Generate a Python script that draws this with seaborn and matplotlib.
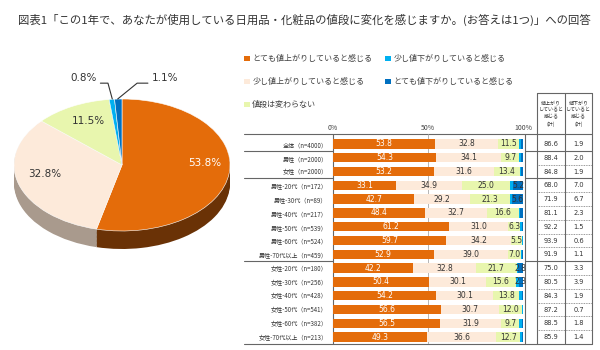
import numpy as np
import pandas as pd
import matplotlib
matplotlib.use("Agg")
import matplotlib.pyplot as plt
from matplotlib.patches import Patch
import seaborn as sns

# ---------------- data ----------------
title = "図表1「この1年で、あなたが使用している日用品・化粧品の値段に変化を感じますか。(お答えは1つ)」への回答"
series_names = ["とても値上がりしていると感じる", "少し値上がりしていると感じる", "値段は変わらない",
                "少し値下がりしていると感じる", "とても値下がりしていると感じる"]
pie_values = [53.8, 32.8, 11.5, 0.8, 1.1]
pie_labels = ["53.8%", "32.8%", "11.5%", "0.8%", "1.1%"]

row_labels = ["全体（n=4000）", "男性（n=2000）", "女性（n=2000）",
              "男性-20代（n=172）", "男性-30代（n=89）", "男性-40代（n=217）",
              "男性-50代（n=539）", "男性-60代（n=524）", "男性-70代以上（n=459）",
              "女性-20代（n=180）", "女性-30代（n=256）", "女性-40代（n=428）",
              "女性-50代（n=541）", "女性-60代（n=382）", "女性-70代以上（n=213）"]
very_up = [53.8, 54.3, 53.2, 33.1, 42.7, 48.4, 61.2, 59.7, 52.9, 42.2, 50.4, 54.2, 56.6, 56.5, 49.3]
bit_up = [32.8, 34.1, 31.6, 34.9, 29.2, 32.7, 31.0, 34.2, 39.0, 32.8, 30.1, 30.1, 30.7, 31.9, 36.6]
same = [11.5, 9.7, 13.4, 25.0, 21.3, 16.6, 6.3, 5.5, 7.0, 21.7, 15.6, 13.8, 12.0, 9.7, 12.7]
bit_down = [0.8, 0.9, 0.8, 1.8, 1.1, 0.9, 0.8, 0.4, 0.6, 0.5, 1.6, 1.2, 0.5, 1.2, 1.0]
very_down = [1.1, 1.1, 1.1, 5.2, 5.6, 1.4, 0.7, 0.2, 0.5, 2.8, 2.3, 0.7, 0.2, 0.6, 0.4]
up_total = [86.6, 88.4, 84.8, 68.0, 71.9, 81.1, 92.2, 93.9, 91.9, 75.0, 80.5, 84.3, 87.2, 88.5, 85.9]
down_total = [1.9, 2.0, 1.9, 7.0, 6.7, 2.3, 1.5, 0.6, 1.1, 3.3, 3.9, 1.9, 0.7, 1.8, 1.4]
table_headers = ["値上がり\nしていると\n感じる\n(計)", "値下がり\nしていると\n感じる\n(計)"]
x_ticks = [0, 50, 100]
x_ticklabels = ["0%", "50%", "100%"]

# ---------------- style ----------------
colors = ["#E46C0A", "#FDEADA", "#E8F6AE", "#00B0F0", "#0070C0"]
side_colors = ["#6A3206", "#A99A8D", "#9BA56E", "#00709A", "#004A80"]
sns.set_theme(style="white")
plt.rcParams["font.family"] = ["Noto Sans CJK JP", "DejaVu Sans"]
TXT = "#333333"

fig = plt.figure(figsize=(6, 3.5), dpi=100)
fig.patch.set_facecolor("white")

fig.text(18 / 600, 1 - 20 / 350, title, fontsize=8.2, color=TXT, ha="left", va="center")

# ---------------- pie ----------------
axp = fig.add_axes([3.2 / 600, 1 - 270.6 / 350, 237.6 / 600, 191.4 / 350])
depth = 18 / 66
for d in np.linspace(depth, 0.01, 14):
    axp.pie(pie_values, colors=side_colors, startangle=90, counterclock=False,
            center=(0, -d), radius=1, wedgeprops=dict(linewidth=0))
axp.pie(pie_values, colors=colors, startangle=90, counterclock=False,
        center=(0, 0), radius=1, wedgeprops=dict(linewidth=0.4, edgecolor="white"))
axp.set_aspect("auto")
axp.set_xlim(-1.1, 1.1)
axp.set_ylim(-1.6, 1.3)
axp.axis("off")
pie_pos = [(0.77, 0.03), (-0.72, -0.14), (-0.31, 0.67), (-0.36, 1.32), (0.40, 1.32)]
pie_tc = ["white", TXT, TXT, TXT, TXT]
for (px, py), lab, c in zip(pie_pos, pie_labels, pie_tc):
    axp.text(px, py, lab, ha="center", va="center", fontsize=7.5, color=c, family="DejaVu Sans")
axp.plot([-0.20, -0.13, -0.09], [1.24, 1.24, 1.0], color="#333333", lw=0.8, clip_on=False)
axp.plot([0.24, 0.14, -0.04], [1.24, 1.24, 1.0], color="#333333", lw=0.8, clip_on=False)

# ---------------- stacked bars ----------------
ax = fig.add_axes([333 / 600, 1 - 344 / 350, 190 / 600, 210 / 350])
stack = np.array([very_up, bit_up, same, bit_down, very_down])
cum = np.cumsum(stack, axis=0)
df = pd.DataFrame({"label": row_labels})
for k in reversed(range(5)):
    df["v"] = cum[k]
    sns.barplot(data=df, x="v", y="label", orient="h", color=colors[k], width=0.68,
                saturation=1, errorbar=None, linewidth=0, edgecolor="none", ax=ax)

ax.set_xlim(0, 100)
ax.set_ylim(14.5, -0.725)
ax.set_xlabel("")
ax.set_ylabel("")
for s in ax.spines.values():
    s.set_visible(False)
ax.xaxis.set_ticks_position("top")
ax.set_xticks(x_ticks)
ax.set_xticklabels(x_ticklabels)
ax.tick_params(axis="x", length=0, pad=1.5, labelsize=5, labelcolor="#444444")
ax.tick_params(axis="y", length=0, pad=4, labelsize=4.4, labelcolor=TXT)

# value labels
starts = cum - stack
for i in range(len(row_labels)):
    ax.text(starts[0, i] + stack[0, i] / 2, i, f"{stack[0, i]:.1f}", ha="center", va="center",
            fontsize=5.5, color="white", family="DejaVu Sans")
    ax.text(starts[1, i] + stack[1, i] / 2, i, f"{stack[1, i]:.1f}", ha="center", va="center",
            fontsize=5.5, color=TXT, family="DejaVu Sans")
    ax.text(starts[2, i] + stack[2, i] / 2, i, f"{stack[2, i]:.1f}", ha="center", va="center",
            fontsize=5.5, color=TXT, family="DejaVu Sans")
    if stack[4, i] >= 2:
        ax.text(starts[4, i] + stack[4, i] / 2, i, f"{stack[4, i]:.1f}", ha="center", va="center",
                fontsize=5.5, color=TXT, family="DejaVu Sans")

# frame lines
LEFT, VR, T0, T1, T2 = -46.8, 101.05, 107.4, 122.1, 136.3
TOP, BOT, HTOP = -0.725, 14.5, -3.7
LC = "#666666"
kw = dict(color=LC, lw=0.8, clip_on=False, zorder=0.5)
ax.plot([LEFT, T2], [TOP, TOP], **kw)
ax.plot([LEFT, T2], [BOT, BOT], **kw)
for yb in [0.5, 2.5, 8.5]:
    ax.plot([LEFT, 0], [yb, yb], **kw)
    ax.plot([VR, T2], [yb, yb], **kw)
for yb in np.arange(0.5, 14, 1.0):
    if yb not in (0.5, 2.5, 8.5):
        ax.plot([T0, T2], [yb, yb], color="#777777", lw=0.6, ls=(0, (1, 1)), clip_on=False)
ax.plot([0, 0], [TOP, BOT], **kw)
ax.plot([VR, VR], [TOP, BOT], **kw)
ax.plot([50, 50], [TOP, BOT], color="#AAAAAA", lw=0.6, zorder=0.5)
for xv in [T0, T1, T2]:
    ax.plot([xv, xv], [HTOP, BOT], **kw)
ax.plot([T0, T2], [HTOP, HTOP], **kw)

# table
for j, (xc, vals) in enumerate([((T0 + T1) / 2, up_total), ((T1 + T2) / 2, down_total)]):
    ax.text(xc, (HTOP + TOP) / 2, table_headers[j], ha="center", va="center", fontsize=3.6,
            color=TXT, linespacing=1.45, clip_on=False)
    for i, v in enumerate(vals):
        ax.text(xc, i, f"{v:.1f}", ha="center", va="center", fontsize=4.8, color=TXT,
                family="DejaVu Sans", clip_on=False)

# legend
handles = [Patch(facecolor=c, edgecolor="none") for c in colors]
fig.legend(handles, series_names, ncol=2, loc="upper left", bbox_to_anchor=(237 / 600, 1 - 47 / 350),
           frameon=False, fontsize=5.8, handlelength=0.7, handleheight=0.7, handletextpad=0.3,
           labelspacing=1.75, columnspacing=1.6, labelcolor="#404040")

fig.savefig("out.png", dpi=100, facecolor="white")
